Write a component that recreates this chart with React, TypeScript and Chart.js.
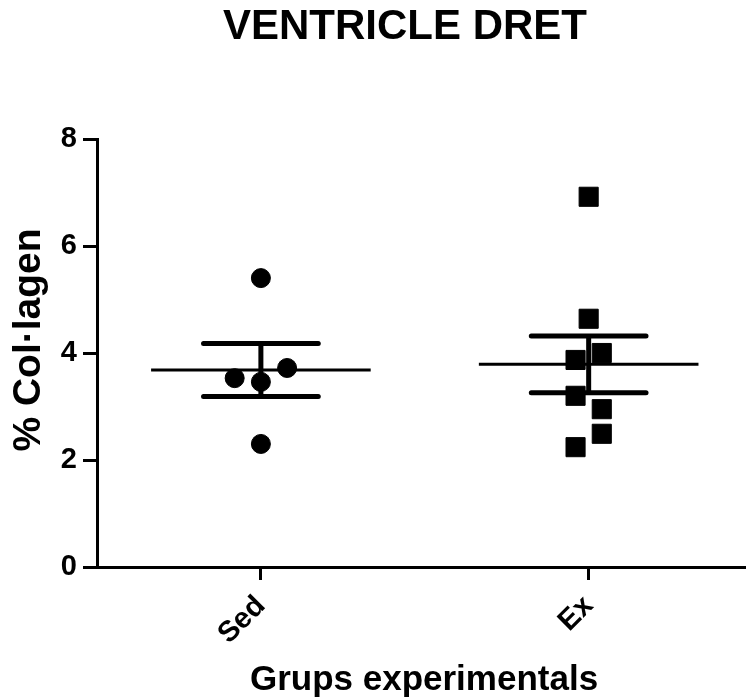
import React, { useEffect, useRef } from "react";
import { Chart, registerables } from "chart.js";

Chart.register(...registerables);

const categories = ["Sed", "Ex"];
const sedValues = [5.4, 3.53, 3.46, 3.72, 2.3];
const sedJitter = [0, -0.08, 0, 0.08, 0];
const exValues = [6.92, 4.64, 4.0, 3.87, 3.2, 2.95, 2.49, 2.24];
const exJitter = [0, 0, 0.04, -0.04, -0.04, 0.04, 0.04, -0.04];
const yTicks = [0, 2, 4, 6, 8];
const titleText = "VENTRICLE DRET";
const xTitle = "Grups experimentals";
const yTitle = "% Col·lagen";

const FONT = '"Liberation Sans", Arial, sans-serif';

function mean(a: number[]) {
  return a.reduce((s, v) => s + v, 0) / a.length;
}
function sem(a: number[]) {
  const m = mean(a);
  const v = a.reduce((s, x) => s + (x - m) * (x - m), 0) / (a.length - 1);
  return Math.sqrt(v) / Math.sqrt(a.length);
}

const MEAN_HALF = 0.335;
const CAP_HALF = 0.175;

function groupDatasets(pos: number, values: number[]) {
  const m = mean(values);
  const s = sem(values);
  const base = {
    type: "line" as const,
    showLine: true,
    pointRadius: 0,
    borderColor: "#000",
    borderCapStyle: "round" as const,
    fill: false,
  };
  return [
    { ...base, data: [{ x: pos - MEAN_HALF, y: m }, { x: pos + MEAN_HALF, y: m }], borderWidth: 3, borderCapStyle: "butt" as const },
    { ...base, data: [{ x: pos - CAP_HALF, y: m + s }, { x: pos + CAP_HALF, y: m + s }], borderWidth: 5 },
    { ...base, data: [{ x: pos - CAP_HALF, y: m - s }, { x: pos + CAP_HALF, y: m - s }], borderWidth: 5 },
    { ...base, data: [{ x: pos, y: m + s }, { x: pos, y: m - s }], borderWidth: 5, borderCapStyle: "butt" as const },
  ];
}

const titlesPlugin = {
  id: "customTitles",
  afterDraw(chart: any) {
    const ctx = chart.ctx;
    ctx.save();
    ctx.fillStyle = "#000";
    ctx.textAlign = "center";
    ctx.textBaseline = "middle";
    ctx.font = `bold 42px ${FONT}`;
    ctx.fillText(titleText, 405, 27);
    ctx.font = `bold 35px ${FONT}`;
    ctx.fillText(xTitle, 424, 680);
    ctx.translate(29, 340);
    ctx.rotate(-Math.PI / 2);
    ctx.font = `bold 39px ${FONT}`;
    ctx.fillText(yTitle, 0, 0);
    ctx.restore();
  },
};

export default function App() {
  const ref = useRef<HTMLCanvasElement>(null);
  useEffect(() => {
    if (!ref.current) return;
    const datasets: any[] = [
      {
        type: "scatter",
        data: sedValues.map((v, i) => ({ x: 1 + sedJitter[i], y: v })),
        pointStyle: "circle",
        pointRadius: 9.5,
        pointBorderWidth: 1,
        backgroundColor: "#000",
        borderColor: "#000",
      },
      {
        type: "scatter",
        data: exValues.map((v, i) => ({ x: 2 + exJitter[i], y: v })),
        pointStyle: "rect",
        pointRadius: 13.5,
        pointBorderWidth: 1,
        backgroundColor: "#000",
        borderColor: "#000",
      },
      ...groupDatasets(1, sedValues),
      ...groupDatasets(2, exValues),
    ];
    const chart = new Chart(ref.current, {
      type: "scatter",
      data: { datasets },
      plugins: [titlesPlugin],
      options: {
        animation: false,
        responsive: false,
        devicePixelRatio: 1,
        layout: { autoPadding: false, padding: { top: 139, left: 0, right: 0, bottom: 0 } },
        plugins: { legend: { display: false }, tooltip: { enabled: false }, title: { display: false } },
        scales: {
          x: {
            type: "linear",
            min: 0.5,
            max: 2.48,
            afterBuildTicks: (scale: any) => {
              scale.ticks = categories.map((_, i) => ({ value: i + 1 }));
            },
            afterFit: (scale: any) => {
              scale.height = 133;
              scale.paddingLeft = 0;
              scale.paddingRight = 0;
            },
            ticks: {
              callback: (v: any) => categories[Number(v) - 1] ?? "",
              minRotation: 45,
              maxRotation: 45,
              color: "#000",
              padding: 9,
              font: { family: FONT, size: 29, weight: "bold" },
            },
            grid: { display: true, drawOnChartArea: false, drawTicks: true, tickLength: 13, tickWidth: 3, color: "#000" },
            border: { display: true, width: 3, color: "#000" },
          },
          y: {
            type: "linear",
            min: 0,
            max: 8,
            afterBuildTicks: (scale: any) => {
              scale.ticks = yTicks.map((v) => ({ value: v }));
            },
            afterFit: (scale: any) => {
              scale.width = 97;
              scale.paddingTop = 0;
              scale.paddingBottom = 0;
            },
            ticks: {
              color: "#000",
              padding: 6,
              font: { family: FONT, size: 29, weight: "bold" },
            },
            grid: { display: true, drawOnChartArea: false, drawTicks: true, tickLength: 14, tickWidth: 3, color: "#000" },
            border: { display: true, width: 3, color: "#000" },
          },
        },
      },
    } as any);
    return () => chart.destroy();
  }, []);
  return (
    <div style={{ position: "absolute", left: 0, top: 0, width: 746, height: 700 }}>
      <canvas ref={ref} width={746} height={700} />
    </div>
  );
}
